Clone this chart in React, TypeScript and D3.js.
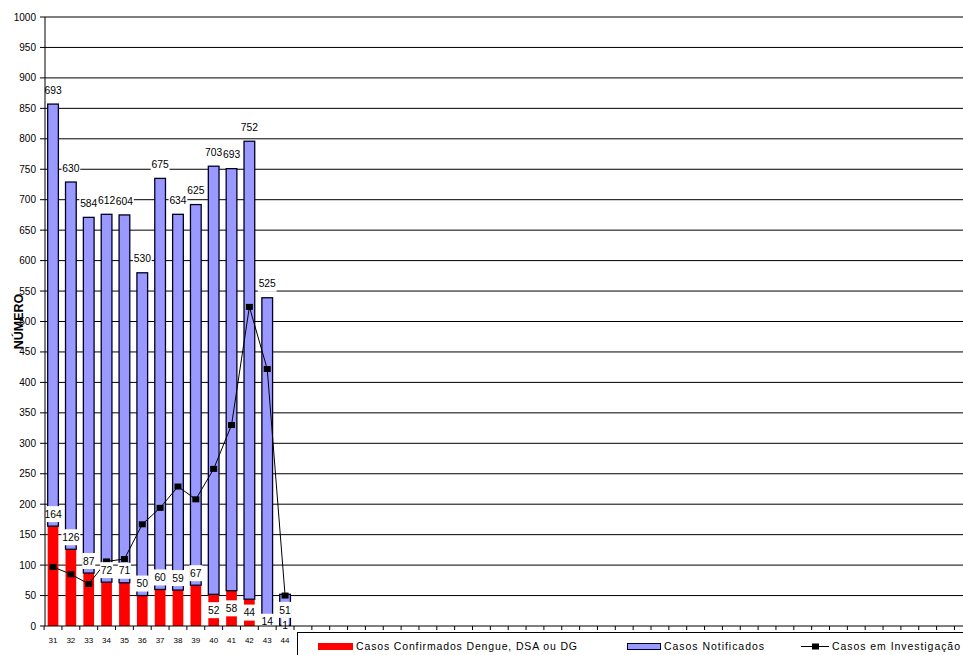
import React from 'react';
import * as d3 from 'd3';

// semanas epidemiológicas com dados
const weeks = [31, 32, 33, 34, 35, 36, 37, 38, 39, 40, 41, 42, 43, 44];
const confirmed = [164, 126, 87, 72, 71, 50, 60, 59, 67, 52, 58, 44, 14, 1];
const notified = [693, 603, 584, 604, 604, 530, 675, 617, 625, 703, 693, 752, 525, 51];
const notifiedLabels = ['693', '630', '584', '612', '604', '530', '675', '634', '625', '703', '693', '752', '525', '51'];
const investigating = [97, 85, 69, 106, 110, 167, 194, 229, 208, 258, 330, 524, 422, 50];

const W = 963;
const H = 655;
const FONT = '"Liberation Sans", Arial, sans-serif';

export default function App() {
  const margin = {left: 45, top: 17, bottom: 626};
  const step = 17.85;

  const x = d3.scaleBand<number>()
    .domain(weeks)
    .range([margin.left - 0.9, margin.left - 0.9 + step * weeks.length])
    .paddingInner(0.4)
    .paddingOuter(0.2);
  const y = d3.scaleLinear().domain([0, 1000]).range([margin.bottom, margin.top]);
  const yTicks = y.ticks(20);
  const bw = x.bandwidth();
  const cx = (w: number) => (x(w) as number) + bw / 2;

  // continuação do eixo x (semanas sem dados, escondidas pela legenda)
  const extraTicks = d3.range(x(weeks[0])! - x.step() * 0.2, W + step, x.step());

  const line = d3.line<number>()
    .x((_, i) => cx(weeks[i]))
    .y(d => y(d));

  const labelBox = (key: string, tx: number, ty: number, text: string, size = 10.3) => {
    const w = text.length * size * 0.56 + 1.5;
    const h = 16;
    return (
      <g key={key}>
        <rect x={tx - w / 2} y={ty - h / 2} width={w} height={h} fill="#fff" />
        <text x={tx} y={ty} dy="0.36em" textAnchor="middle" fontSize={size} fontFamily={FONT} fill="#000">{text}</text>
      </g>
    );
  };

  return (
    <svg width={W} height={H} style={{position: 'absolute', left: 0, top: 0, background: '#fff'}}>
      {/* grade */}
      <g>
        {yTicks.filter(t => t > 0).map(t => (
          <line key={t} x1={margin.left} x2={W} y1={y(t)} y2={y(t)} stroke="#000" strokeWidth={1} />
        ))}
      </g>

      {/* barras empilhadas */}
      <g>
        {weeks.map((w, i) => (
          <g key={w}>
            <rect x={x(w)} y={y(confirmed[i])} width={bw} height={y(0) - y(confirmed[i])} fill="#ff0000" />
            <rect x={x(w)} y={y(confirmed[i] + notified[i])} width={bw}
              height={y(confirmed[i]) - y(confirmed[i] + notified[i])}
              fill="#9999ff" stroke="#000022" strokeWidth={1.3} />
          </g>
        ))}
      </g>

      {/* linha casos em investigação */}
      <path d={line(investigating) || ''} fill="none" stroke="#000" strokeWidth={1} />
      {investigating.map((v, i) => (
        <rect key={i} x={cx(weeks[i]) - 3.5} y={y(v) - 3} width={7} height={6} fill="#000" />
      ))}

      {/* rótulos */}
      <g>
        {weeks.map((w, i) => {
          const top = confirmed[i] + notified[i];
          const ny = notified[i] < 100 ? y(confirmed[i] + notified[i] / 2) : y(top) - 14;
          return labelBox('n' + w, cx(w), ny, notifiedLabels[i]);
        })}
        {weeks.map((w, i) => {
          const cy = w >= 40 ? y(confirmed[i] / 2) : y(confirmed[i]) - 12;
          return labelBox('c' + w, cx(w), cy, String(confirmed[i]));
        })}
      </g>

      {/* eixo y */}
      <g>
        <line x1={margin.left} x2={margin.left} y1={margin.top} y2={margin.bottom} stroke="#000" strokeWidth={1} />
        {yTicks.map(t => (
          <g key={t}>
            <line x1={margin.left - 5} x2={margin.left} y1={y(t)} y2={y(t)} stroke="#000" />
            <text x={36} y={y(t)} dy="0.35em" textAnchor="end" fontSize={10} fontFamily={FONT} fill="#000">{t}</text>
          </g>
        ))}
        <text transform={`translate(23,${(margin.top + margin.bottom) / 2}) rotate(-90)`}
          textAnchor="middle" fontSize={12.5} fontWeight="bold" fontFamily={FONT} fill="#000">NÚMERO</text>
      </g>

      {/* eixo x */}
      <g>
        <line x1={margin.left} x2={W} y1={margin.bottom} y2={margin.bottom} stroke="#000" />
        {extraTicks.map((t, i) => (
          <line key={i} x1={t} x2={t} y1={margin.bottom} y2={margin.bottom + 4} stroke="#000" />
        ))}
        {weeks.map(w => (
          <text key={w} x={cx(w)} y={643} textAnchor="middle" fontSize={8} fontFamily={FONT} fill="#000">{w}</text>
        ))}
      </g>

      {/* legenda */}
      <g fontFamily={FONT} fontSize={10.5} fill="#000">
        <rect x={297.5} y={632.5} width={700} height={40} fill="#fff" stroke="#000" />
        <rect x={318} y={643} width={35} height={7} fill="#ff0000" />
        <text x={356} y={650} textLength={221} lengthAdjust="spacing">Casos Confirmados Dengue, DSA ou DG</text>
        <rect x={627.5} y={643.5} width={33} height={6} fill="#9999ff" stroke="#000022" />
        <text x={664} y={650} textLength={100} lengthAdjust="spacing">Casos Notificados</text>
        <line x1={801} x2={829} y1={646.5} y2={646.5} stroke="#000" />
        <rect x={812} y={643.5} width={7} height={6} fill="#000" />
        <text x={832} y={650} textLength={128} lengthAdjust="spacing">Casos em Investigação</text>
      </g>
    </svg>
  );
}
